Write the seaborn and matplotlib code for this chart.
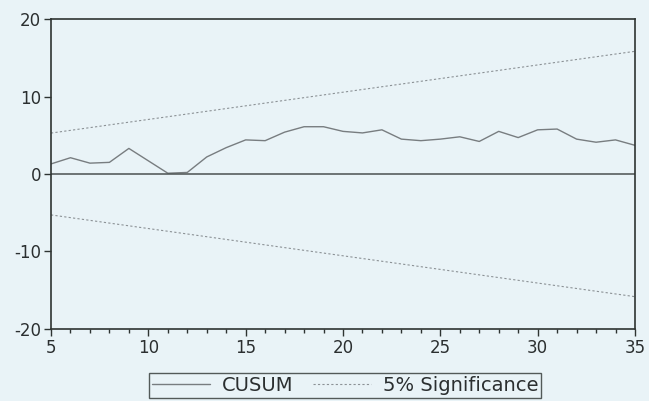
import numpy as np
import pandas as pd
import matplotlib
matplotlib.use("Agg")
import matplotlib.pyplot as plt
import seaborn as sns
from matplotlib.ticker import MultipleLocator

# Observation index and recursive CUSUM statistic
periods = list(range(5, 36))
cusum = [1.3, 2.1, 1.4, 1.5, 3.3, 1.7, 0.1, 0.2, 2.2, 3.4,
         4.4, 4.3, 5.4, 6.1, 6.1, 5.5, 5.3, 5.7, 4.5, 4.3,
         4.5, 4.8, 4.2, 5.5, 4.7, 5.7, 5.8, 4.5, 4.1, 4.4, 3.7]

# 5% significance bounds (straight lines between the end points)
band_periods = [5, 35]
band_upper = [5.28, 15.83]
band_lower = [-5.28, -15.83]

x_ticks = [5, 10, 15, 20, 25, 30, 35]
y_ticks = [-20, -10, 0, 10, 20]

sns.set_theme(style="white")
plt.rcParams["font.family"] = ["DejaVu Sans"]
plt.rcParams["axes.unicode_minus"] = False

bg = "#e9f3f7"
line_col = "#787d80"
band_col = "#8c9296"

fig = plt.figure(figsize=(6.49, 4.01), dpi=100, facecolor=bg)
ax = fig.add_axes([0.0786, 0.1796, 0.8998, 0.773])
ax.set_facecolor(bg)

cusum_df = pd.DataFrame({"period": periods, "value": cusum})
band_df = pd.DataFrame({"period": band_periods, "upper": band_upper, "lower": band_lower})

sns.lineplot(data=cusum_df, x="period", y="value", ax=ax, color=line_col,
             linewidth=1.0, label="CUSUM")
sns.lineplot(data=band_df, x="period", y="upper", ax=ax, color=band_col,
             linewidth=0.8, linestyle=(0, (2, 2)), label="5% Significance")
sns.lineplot(data=band_df, x="period", y="lower", ax=ax, color=band_col,
             linewidth=0.8, linestyle=(0, (2, 2)), label="_nolegend_")
ax.axhline(0, color="#4a5150", linewidth=1.1)

ax.set_xlim(5, 35)
ax.set_ylim(-20, 20)
ax.set_xticks(x_ticks)
ax.set_yticks(y_ticks)
ax.xaxis.set_minor_locator(MultipleLocator(1))
ax.set_xlabel("")
ax.set_ylabel("")

for s in ax.spines.values():
    s.set_color("#2e3432")
    s.set_linewidth(1.2)

ax.tick_params(axis="both", which="major", direction="out", length=5, width=1,
               color="#2e3432", labelsize=12, labelcolor="#2b2f30", pad=2,
               bottom=True, left=True)
ax.tick_params(axis="x", which="minor", direction="out", length=3, width=1,
               color="#2e3432", bottom=True)

handles, labels = ax.get_legend_handles_labels()
ax.legend_.remove()
leg = fig.legend(handles, labels, loc="center", bbox_to_anchor=(0.532, 0.038),
                 ncol=2, fontsize=14, frameon=True, fancybox=False,
                 edgecolor="#2e3432", facecolor=bg, handlelength=3.0,
                 columnspacing=1.0, borderpad=0.15, handletextpad=0.6)
leg.get_frame().set_linewidth(1.0)
for t in leg.get_texts():
    t.set_color("#2b2f30")

fig.savefig("out.png", dpi=100, facecolor=bg)
